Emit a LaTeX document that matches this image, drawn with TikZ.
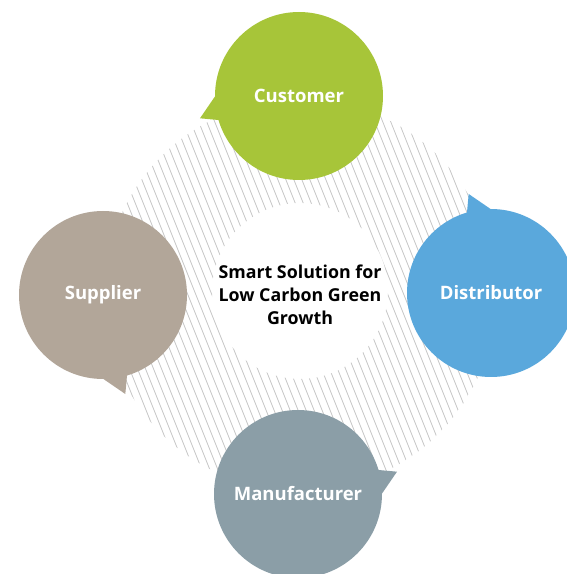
\documentclass[tikz,border=0pt]{standalone}
\usepackage{fontspec}
\setmainfont{Open Sans}
\usetikzlibrary{calc}
\definecolor{cgreen}{HTML}{A7C539}
\definecolor{cblue}{HTML}{5AA8DC}
\definecolor{ctaupe}{HTML}{B2A699}
\definecolor{cslate}{HTML}{8B9EA7}
\definecolor{chatch}{HTML}{C4C4C4}
\begin{document}
\begin{tikzpicture}[x=1pt,y=1pt,
  bubble/.style={circle, minimum size=168pt, inner sep=0pt, text=white,
    font=\bfseries\fontsize{18.5}{22}\selectfont},
  hatchline/.style={draw=chatch, line width=0.75pt},
  centertext/.style={align=center, text=black,
    font=\bfseries\fontsize{17.8}{23}\selectfont}]
\useasboundingbox (0,0) rectangle (567,574);
\clip (0,0) rectangle (567,574);
% hatched ring
\begin{scope}[even odd rule]
  \clip (300,279) circle (196) (300,283) circle (88);
  \foreach \i in {-70,...,70}
    \draw[hatchline] ({300+\i*8-0.4*240},{279+240}) -- ++({0.4*480},-480);
\end{scope}
% bubbles
\node[bubble, fill=cgreen] (customer) at (299,478) {Customer};
\node[bubble, fill=cblue] (distributor) at (491,281) {Distributor};
\node[bubble, fill=cslate] (manufacturer) at (298,80) {Manufacturer};
\node[bubble, fill=ctaupe] (supplier) at (103,279) {Supplier};
% tails
\foreach \n/\c/\r in {customer/cgreen/0, distributor/cblue/-90, manufacturer/cslate/-180, supplier/ctaupe/-270}{
  \fill[\c] ($(\n.center)+({175.9+\r}:80)$) -- ($(\n.center)+({192.7+\r}:101.5)$)
     -- ($(\n.center)+({198.4+\r}:78)$) -- cycle;
}
% centre text
\node[centertext] (centre) at (300,279) {Smart Solution for\\Low Carbon Green\\Growth};
\end{tikzpicture}
\end{document}
